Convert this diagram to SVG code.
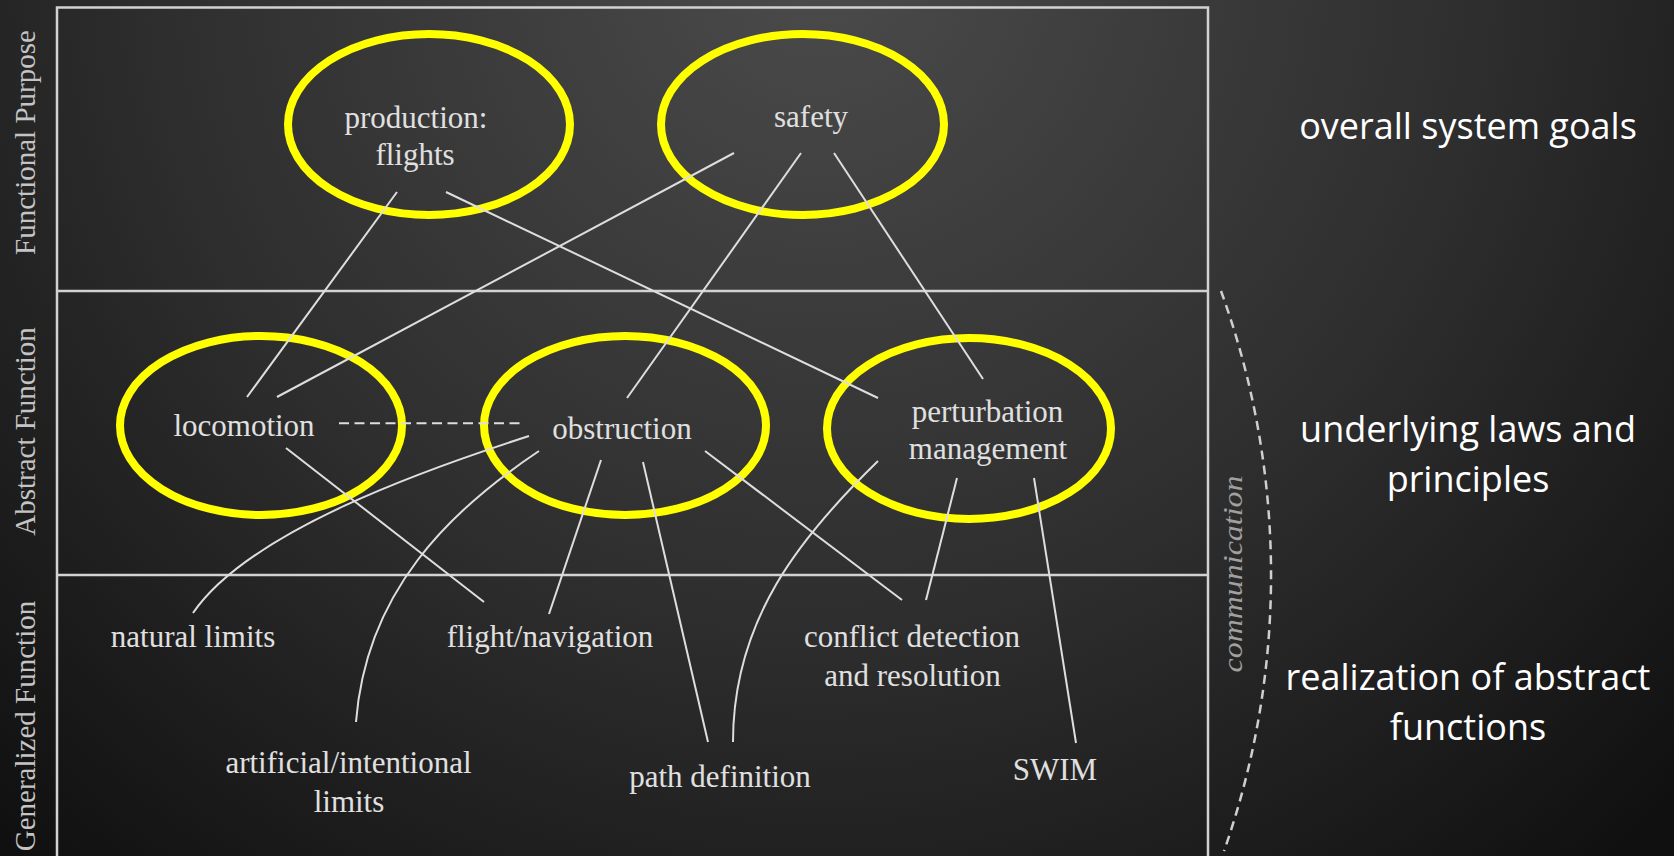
<svg xmlns="http://www.w3.org/2000/svg" width="1674" height="856" viewBox="0 0 1674 856">
<defs>
<radialGradient id="bg" gradientUnits="userSpaceOnUse" cx="820" cy="-40" r="1200">
<stop offset="0" stop-color="#4b4b4b"/>
<stop offset="0.55" stop-color="#2e2e2e"/>
<stop offset="1" stop-color="#101010"/>
</radialGradient>
<style>
.frame{stroke:#d2d2d2;stroke-width:2.5;fill:none}
.hl{fill:none;stroke:#ffff00;stroke-width:8}
.lbl{font-family:"Liberation Serif","Times New Roman",serif;font-size:31px;fill:#e0e0e0;text-anchor:middle}
.band{font-family:"Liberation Serif","Times New Roman",serif;font-size:29px;fill:#c4c4c4;text-anchor:middle}
.conn{fill:none;stroke:#dedede;stroke-width:2}
.dash{stroke-dasharray:10 5.5}
.side{font-family:"Open Sans","Liberation Sans",sans-serif;font-size:36px;fill:#ffffff;text-anchor:middle}
.comm{font-family:"Liberation Serif","Times New Roman",serif;font-style:italic;font-size:28px;fill:#a0a0a0;text-anchor:middle}
</style>
</defs>
<rect x="0" y="0" width="1674" height="856" fill="url(#bg)"/>
<g id="frame">
<path class="frame" d="M57,856 L57,7.5 L1208,7.5 L1208,856"/>
<line class="frame" x1="57" y1="291" x2="1208" y2="291"/>
<line class="frame" x1="57" y1="575" x2="1208" y2="575"/>
</g>
<g id="bands">
<text class="band" transform="translate(35,142.5) rotate(-90)">Functional Purpose</text>
<text class="band" transform="translate(35,431.5) rotate(-90)">Abstract Function</text>
<text class="band" transform="translate(35,726) rotate(-90)">Generalized Function</text>
</g>
<g id="node-production">
<ellipse class="hl" cx="429" cy="124.5" rx="141" ry="90.5"/>
<text class="lbl" x="416" y="128">production:</text>
<text class="lbl" x="415" y="165">flights</text>
</g>
<g id="node-safety">
<ellipse class="hl" cx="802.5" cy="124.5" rx="141.5" ry="90.5"/>
<text class="lbl" x="811" y="127">safety</text>
</g>
<g id="node-locomotion">
<ellipse class="hl" cx="261" cy="425.5" rx="141" ry="89.5"/>
<text class="lbl" x="244" y="436">locomotion</text>
</g>
<g id="node-obstruction">
<ellipse class="hl" cx="625" cy="425.5" rx="141" ry="89.5"/>
<text class="lbl" x="622" y="439">obstruction</text>
</g>
<g id="node-perturbation">
<ellipse class="hl" cx="969" cy="428.5" rx="142" ry="90.5"/>
<text class="lbl" x="987.5" y="422">perturbation</text>
<text class="lbl" x="988" y="459">management</text>
</g>
<g id="node-natural">
<text class="lbl" x="193" y="647">natural limits</text>
</g>
<g id="node-flight">
<text class="lbl" x="550" y="647">flight/navigation</text>
</g>
<g id="node-artificial">
<text class="lbl" x="348.5" y="773">artificial/intentional</text>
<text class="lbl" x="349" y="812">limits</text>
</g>
<g id="node-path">
<text class="lbl" x="720" y="787">path definition</text>
</g>
<g id="node-conflict">
<text class="lbl" x="912" y="647">conflict detection</text>
<text class="lbl" x="912.5" y="686">and resolution</text>
</g>
<g id="node-swim">
<text class="lbl" x="1055" y="780">SWIM</text>
</g>
<g id="connectors">
<path class="conn" d="M397,192 L247,397"/>
<path class="conn" d="M734,153 L277,397"/>
<path class="conn" d="M446,192 L878,398"/>
<path class="conn" d="M801,153 L627,398"/>
<path class="conn" d="M834,153 L983,379"/>
<path class="conn dash" d="M339,423.3 L523,423.3"/>
<path class="conn" d="M286,448 L484,602"/>
<path class="conn" d="M529,436 C430,468 250,530 193,613"/>
<path class="conn" d="M539,451 C449,511 366,592 356,722"/>
<path class="conn" d="M601,460 L549,614"/>
<path class="conn" d="M643,462 L708,742"/>
<path class="conn" d="M705,451 L902,600"/>
<path class="conn" d="M878,461 C800,537 733,620 733,742"/>
<path class="conn" d="M957,478 L926,600"/>
<path class="conn" d="M1034,478 L1076,743"/>
</g>
<g id="communication">
<path d="M1221,291 A832,832 0 0,1 1224,851" fill="none" stroke="#cfcfcf" stroke-width="2.5" stroke-dasharray="9 6"/>
<text class="comm" transform="translate(1242,574) rotate(-90)" textLength="197" lengthAdjust="spacingAndGlyphs">communication</text>
</g>
<g id="side-notes">
<text class="side" x="1468" y="139">overall system goals</text>
<text class="side" x="1468" y="442">underlying laws and</text>
<text class="side" x="1468" y="492">principles</text>
<text class="side" x="1468" y="690">realization of abstract</text>
<text class="side" x="1468" y="740">functions</text>
</g>
</svg>
